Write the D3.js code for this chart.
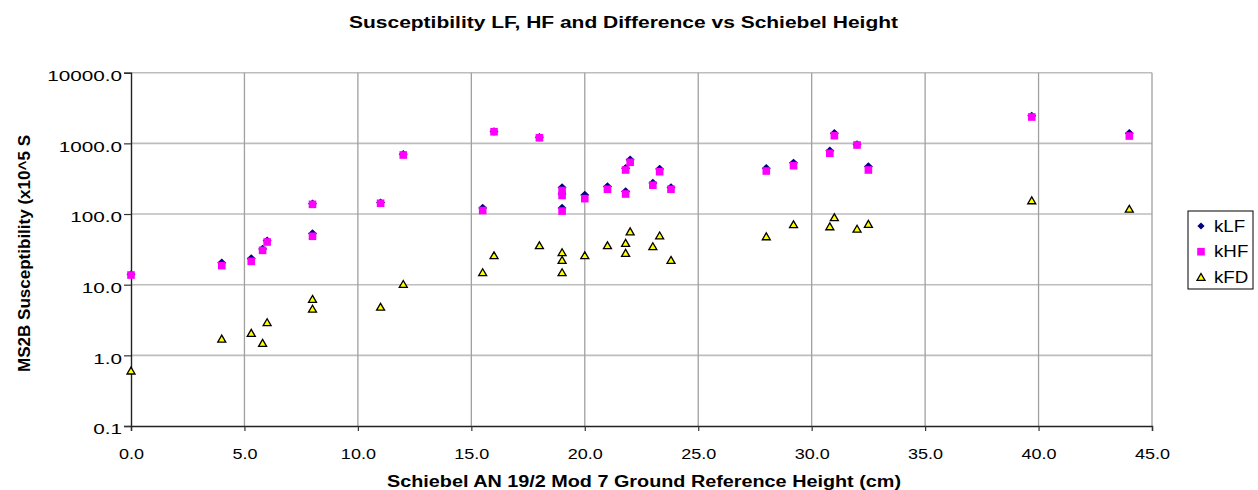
<!DOCTYPE html>
<html>
<head>
<meta charset="utf-8">
<script src="https://cdn.jsdelivr.net/npm/d3@7"></script>
<style>
  body { margin: 0; background: #fff; }
  text { font-family: "Liberation Sans", Arial, sans-serif; fill: #000; }
</style>
</head>
<body>
<div id="chart"></div>
<script>
// Data
var heights = [0, 4, 5.3, 5.8, 6, 8, 8, 11, 12, 15.5, 16, 18, 19, 19, 19, 20, 21, 21.8, 21.8, 22, 23, 23.3, 23.8, 28, 29.2, 30.8, 31, 32, 32.5, 39.7, 44];
var kLF = [14, 20.5, 23.5, 32, 42, 140, 53, 145, 700, 122, 1470, 1220, 238, 192, 122, 186, 245, 445, 208, 585, 275, 435, 238, 445, 530, 785, 1390, 965, 470, 2450, 1390];
var kHF = [13.7, 18.6, 21.4, 30.6, 40.2, 137, 48.4, 142, 684, 112, 1460, 1200, 215, 183, 110, 165, 224, 420, 192, 540, 256, 397, 224, 406, 483, 723, 1283, 948, 420, 2361, 1270];
var kFD = [0.6, 1.7, 2.05, 1.48, 2.9, 6.2, 4.5, 4.8, 10.1, 14.8, 25.7, 35.6, 28.4, 22.1, 14.8, 25.7, 35.6, 38.5, 27.8, 56, 34.5, 49, 22.1, 47.7, 70.6, 66, 88.7, 61, 71.5, 154, 117];
var xTicks = [0, 5, 10, 15, 20, 25, 30, 35, 40, 45];
var yTicks = [0.1, 1, 10, 100, 1000, 10000];
var seriesNames = ["kLF", "kHF", "kFD"];

var svgWidth = 1258;
var svgHeight = 490;
var plot = { left: 131, right: 1152, top: 72.7, bottom: 426 };

var svg = d3.select("#chart")
  .append("svg")
  .attr("width", svgWidth)
  .attr("height", svgHeight);

var x = d3.scaleLinear().domain([0, 45]).range([plot.left, plot.right]);
var y = d3.scaleLog().domain([0.1, 10000]).range([plot.bottom, plot.top]);

// Gridlines
svg.append("g").selectAll("line")
  .data(yTicks.slice(1))
  .enter().append("line")
  .attr("x1", plot.left).attr("x2", plot.right)
  .attr("y1", d => y(d)).attr("y2", d => y(d))
  .attr("stroke", "#bdbdbd").attr("stroke-width", 1.6);

svg.append("g").selectAll("line")
  .data(xTicks.slice(1))
  .enter().append("line")
  .attr("x1", d => x(d)).attr("x2", d => x(d))
  .attr("y1", plot.top).attr("y2", plot.bottom)
  .attr("stroke", "#a0a0a0").attr("stroke-width", 1.3);

// Axes
var bottomAxis = d3.axisBottom(x).tickValues(xTicks).tickFormat(d3.format(".1f")).tickSizeOuter(0).tickSize(5).tickPadding(17);
var leftAxis = d3.axisLeft(y).tickValues(yTicks).tickFormat(d3.format(".1f")).tickSizeOuter(0).tickSize(7).tickPadding(2);

var gx = svg.append("g")
  .attr("transform", `translate(0, ${plot.bottom})`)
  .call(bottomAxis);
var gy = svg.append("g")
  .attr("transform", `translate(${plot.left}, 0)`)
  .call(leftAxis);

[gx, gy].forEach(function(g) {
  g.select(".domain").attr("stroke", "#222").attr("stroke-width", 1.4);
  g.selectAll(".tick line").attr("stroke", "#333").attr("stroke-width", 1.2);
  g.selectAll(".tick text")
    .attr("font-family", "Liberation Sans, Arial, sans-serif")
    .attr("font-size", 15)
    .attr("fill", "#000");
});
gx.selectAll(".tick text").attr("dy", "0.71em");
gy.selectAll(".tick text").attr("dy", "0.53em");

// Markers
var pts = heights.map((h, i) => ({ x: h, lf: kLF[i], hf: kHF[i], fd: kFD[i] }));
var diamond = "M0,-4.2L4.5,0L0,4.2L-4.5,0Z";
var triangle = "M0,-3.9L4,3L-4,3Z";
var square = d3.symbol().type(d3.symbolSquare).size(58)();

svg.append("g").selectAll("path")
  .data(pts).enter().append("path")
  .attr("d", triangle)
  .attr("transform", d => `translate(${x(d.x)}, ${y(d.fd)})`)
  .attr("fill", "#ffff00").attr("stroke", "#000").attr("stroke-width", 1.3);

svg.append("g").selectAll("path")
  .data(pts).enter().append("path")
  .attr("d", diamond)
  .attr("transform", d => `translate(${x(d.x)}, ${y(d.lf)})`)
  .attr("fill", "#000080");

svg.append("g").selectAll("path")
  .data(pts).enter().append("path")
  .attr("d", square)
  .attr("transform", d => `translate(${x(d.x)}, ${y(d.hf)})`)
  .attr("fill", "#ff00ff");

// Titles
svg.append("text")
  .attr("x", 349).attr("y", 27.5)
  .attr("font-size", 16).attr("font-weight", "bold")
  .attr("textLength", 549).attr("lengthAdjust", "spacingAndGlyphs")
  .text("Susceptibility LF, HF and Difference vs Schiebel Height");

svg.append("text")
  .attr("x", 387).attr("y", 487)
  .attr("font-size", 16).attr("font-weight", "bold")
  .attr("textLength", 514).attr("lengthAdjust", "spacingAndGlyphs")
  .text("Schiebel AN 19/2 Mod 7 Ground Reference Height (cm)");

svg.append("text")
  .attr("transform", "translate(30, 372) rotate(-90)")
  .attr("font-size", 16).attr("font-weight", "bold")
  .attr("textLength", 237).attr("lengthAdjust", "spacingAndGlyphs")
  .text("MS2B Susceptibility (x10^5 S");

// Legend
var legend = svg.append("g").attr("transform", "translate(1188, 211)");
legend.append("rect")
  .attr("width", 65).attr("height", 78)
  .attr("fill", "#fff").attr("stroke", "#000").attr("stroke-width", 1);
var legendShapes = ["M0,-3.4L3.6,0L0,3.4L-3.6,0Z", square, triangle];
var legendFill = ["#000080", "#ff00ff", "#ffff00"];
seriesNames.forEach(function(name, i) {
  var row = legend.append("g").attr("transform", `translate(13, ${15 + i * 25.7})`);
  row.append("path")
    .attr("d", legendShapes[i])
    .attr("fill", legendFill[i])
    .attr("stroke", i === 2 ? "#000" : "none")
    .attr("stroke-width", 1.3);
  row.append("text")
    .attr("x", 13).attr("dy", "0.36em")
    .attr("font-size", 16)
    .text(name)
    .each(function() {
      d3.select(this).attr("textLength", this.getComputedTextLength() * 1.17).attr("lengthAdjust", "spacingAndGlyphs");
    });
});

// Widen tick labels, as in the original rendering
function stretch(sel, k) {
  sel.each(function() {
    d3.select(this).attr("textLength", this.getComputedTextLength() * k).attr("lengthAdjust", "spacingAndGlyphs");
  });
}
stretch(gx.selectAll(".tick text"), 1.2);
stretch(gy.selectAll(".tick text"), 1.38);
</script>
</body>
</html>
